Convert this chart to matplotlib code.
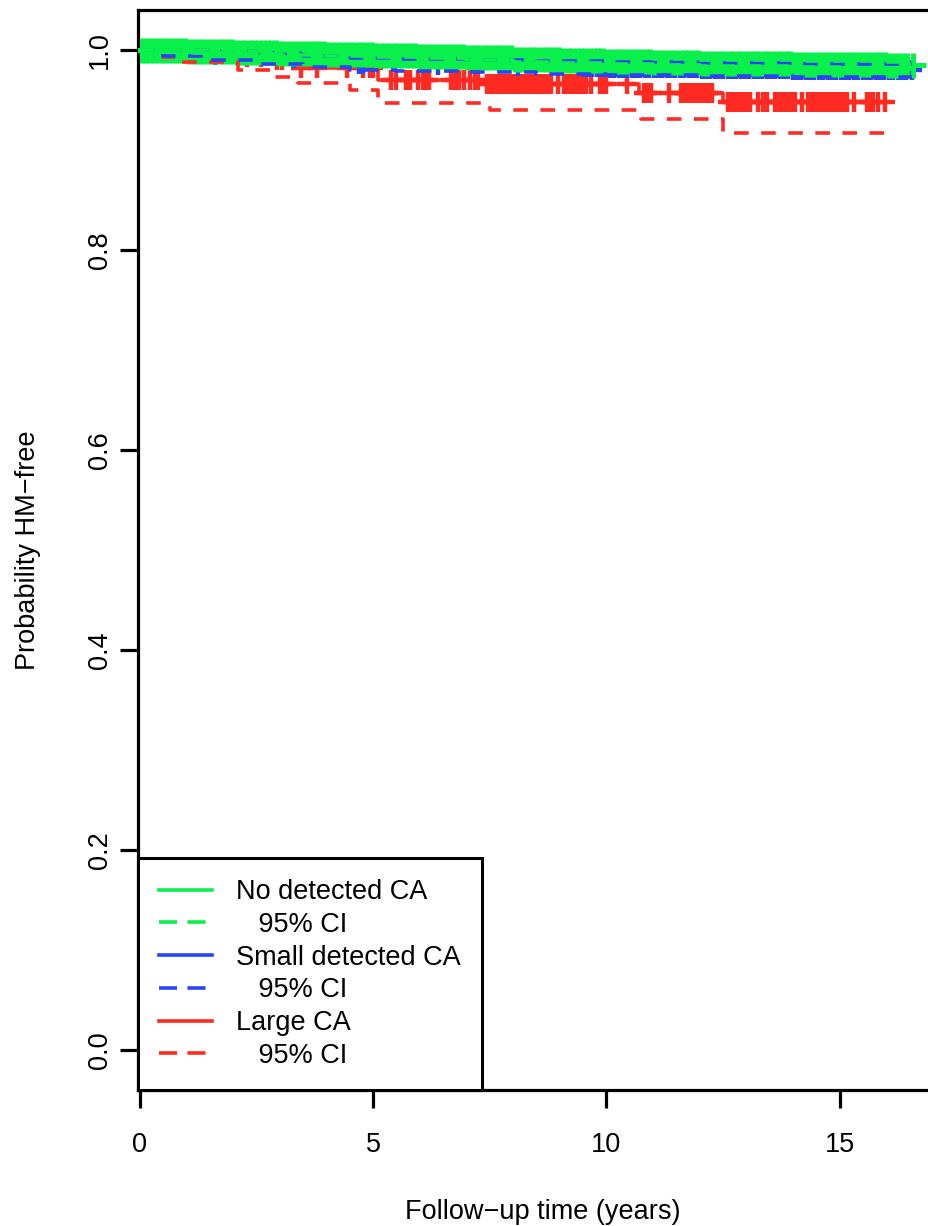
import numpy as np
import matplotlib
matplotlib.use("Agg")
import matplotlib.pyplot as plt
from matplotlib.lines import Line2D

plt.rcParams['font.family'] = ['Liberation Sans', 'DejaVu Sans']
plt.rcParams['lines.scale_dashes'] = False

# ---------------- data ----------------
# No detected CA (green)
green_t = [0, 1, 2, 3, 4, 5, 6, 7, 8, 9, 10, 11, 12, 13, 14, 15, 16]
green_s = [1.0, 0.999, 0.998, 0.997, 0.996, 0.995, 0.994, 0.993, 0.991, 0.990,
           0.989, 0.988, 0.987, 0.987, 0.986, 0.986, 0.985]
green_lo = [1.0, 0.997, 0.996, 0.995, 0.994, 0.993, 0.992, 0.990, 0.988, 0.987,
            0.986, 0.985, 0.984, 0.984, 0.983, 0.982, 0.981]
green_hi = [1.0, 1.0, 0.999, 0.999, 0.998, 0.997, 0.996, 0.995, 0.994, 0.993,
            0.992, 0.991, 0.990, 0.990, 0.989, 0.989, 0.988]
green_end = 16.58
green_cens = [0.04, 0.13, 0.22, 0.31, 0.40, 0.50, 0.59, 0.68, 0.78, 0.87, 0.96,
              1.05, 1.15, 1.24, 1.33, 1.43, 1.52, 1.61, 1.71, 1.80, 1.89, 1.98,
              2.08, 2.17, 2.26, 2.36, 2.45, 2.54, 2.64, 2.73, 2.82, 2.92,
              3.01, 3.10, 3.20, 3.29, 3.38, 3.48, 3.57, 3.66, 3.76, 3.85, 3.94,
              4.04, 4.13, 4.22, 4.32, 4.41, 4.50, 4.60, 4.69, 4.78, 4.88, 4.97,
              5.06, 5.16, 5.25, 5.34, 5.44, 5.53, 5.62, 5.72, 5.81, 5.90,
              6.00, 6.09, 6.18, 6.28, 6.37, 6.46, 6.56, 6.65, 6.74, 6.84, 6.93,
              7.02, 7.12, 7.21, 7.30, 7.40, 7.49, 7.58, 7.68, 7.77, 7.86, 7.96,
              8.05, 8.14, 8.24, 8.33, 8.42, 8.52, 8.61, 8.70, 8.80, 8.89, 8.98,
              9.08, 9.17, 9.26, 9.36, 9.45, 9.54, 9.64, 9.73, 9.82, 9.92,
              10.01, 10.10, 10.20, 10.29, 10.38, 10.48, 10.57, 10.66, 10.76, 10.85, 10.94,
              11.04, 11.13, 11.22, 11.32, 11.41, 11.50, 11.60, 11.69, 11.78, 11.88, 11.97,
              12.06, 12.16, 12.25, 12.34, 12.44, 12.53, 12.62, 12.72, 12.81, 12.90,
              13.00, 13.09, 13.18, 13.28, 13.37, 13.46, 13.56, 13.65, 13.74, 13.84, 13.93,
              14.02, 14.12, 14.21, 14.30, 14.40, 14.49, 14.58, 14.68, 14.77, 14.86, 14.96,
              15.05, 15.14, 15.24, 15.33, 15.42, 15.52, 15.61, 15.70, 15.80, 15.89, 15.98,
              16.08, 16.17, 16.26, 16.35, 16.44, 16.58]

# Small detected CA (blue)
blue_t = [0, 0.5, 1.5, 2.5, 3.5, 4.5, 5.5, 7.0, 8.5, 10.0, 12.0, 14.0]
blue_s = [1.0, 0.998, 0.995, 0.992, 0.989, 0.986, 0.985, 0.984, 0.983, 0.982, 0.981, 0.980]
blue_lo = [1.0, 0.994, 0.990, 0.986, 0.983, 0.980, 0.979, 0.978, 0.976, 0.975, 0.974, 0.973]
blue_hi = [1.0, 1.0, 0.999, 0.997, 0.994, 0.992, 0.991, 0.990, 0.989, 0.988, 0.987, 0.986]
blue_end = 16.55
blue_cens = [0.28, 0.64, 1.24, 1.62, 3.30, 4.70, 4.78, 6.40, 8.10,
             9.52, 9.61, 9.70, 9.80, 9.89, 9.98, 10.08, 10.17, 10.26, 10.36, 10.45,
             10.54, 10.64, 10.73, 10.82, 10.92, 11.01, 11.10, 11.20, 11.29, 11.38,
             11.48, 11.57, 11.66, 11.76, 11.85, 11.94, 12.04, 12.13, 12.22, 12.32,
             12.41, 12.50, 12.60, 12.69, 12.78, 12.88, 12.97, 13.06, 13.16, 13.25,
             13.34, 13.44, 13.53, 13.62, 13.72, 13.81, 13.90, 14.00, 14.09, 14.18,
             14.28, 14.37, 14.46, 14.56, 14.65, 14.74, 14.84, 14.93, 15.02, 15.12,
             15.21, 15.30, 15.40, 15.49, 15.58, 15.68, 15.77, 15.86, 15.96, 16.05,
             16.14, 16.24, 16.33, 16.42, 16.55]

# Large CA (red)
red_t = [0, 0.6, 2.1, 2.9, 3.4, 5.1, 7.3, 10.7, 12.5]
red_s = [1.0, 0.997, 0.993, 0.990, 0.982, 0.970, 0.966, 0.957, 0.948]
red_lo_t = [0, 0.5, 0.9, 2.1, 2.9, 3.4, 4.5, 5.1, 7.5, 10.75, 12.5]
red_lo = [1.0, 0.993, 0.988, 0.980, 0.973, 0.967, 0.960, 0.947, 0.940, 0.931, 0.917]
red_hi_t = [0, 3.4, 5.1, 10.7, 12.5]
red_hi = [1.0, 0.998, 0.992, 0.988, 0.985]
red_end = 16.0
red_cens = [0.65, 1.20, 1.75, 2.30, 2.60, 2.95, 3.05, 3.45, 3.80, 4.45, 4.78, 4.93, 5.00,
            5.38, 5.49, 5.70, 5.79, 5.96, 6.07, 6.13, 6.20, 6.66, 6.75, 6.85, 6.95,
            7.07, 7.18, 7.25, 7.45, 7.52, 7.60, 7.66, 7.72, 7.80, 7.86, 7.93, 8.00,
            8.07, 8.13, 8.20, 8.27, 8.33, 8.40, 8.47, 8.55, 8.60, 8.67, 8.75, 8.82,
            8.96, 9.10, 9.17, 9.24, 9.30, 9.37, 9.44, 9.50, 9.57, 9.68, 9.86, 9.93,
            10.00, 10.45, 10.80, 10.88, 10.95, 11.35, 11.60, 11.67, 11.74, 11.80,
            11.87, 11.94, 12.00, 12.07, 12.13, 12.20, 12.27, 12.60, 12.67, 12.74,
            12.80, 12.87, 12.94, 13.00, 13.07, 13.25, 13.35, 13.45, 13.62, 13.70,
            13.77, 13.85, 13.92, 14.00, 14.05, 14.20, 14.33, 14.40, 14.47, 14.55,
            14.62, 14.70, 14.77, 14.85, 14.93, 15.00, 15.07, 15.15, 15.30, 15.58,
            15.65, 15.72, 15.82, 15.97]

legend_labels = ['No detected CA', '   95% CI', 'Small detected CA', '   95% CI',
                 'Large CA', '   95% CI']
x_ticks = [0, 5, 10, 15]
y_ticks = [0.0, 0.2, 0.4, 0.6, 0.8, 1.0]
y_tick_labels = ['0.0', '0.2', '0.4', '0.6', '0.8', '1.0']
x_label = 'Follow\u2212up time (years)'
y_label = 'Probability HM\u2212free'

# ---------------- style ----------------
GREEN = '#0AF04A'
BLUE = '#2A44F2'
RED = '#FF2A22'
LW = 2.6
DASH = (0, (10.5, 9.0))
LEG_DASH = (0, (13, 7.5))
FS = 19.5

W, H = 929, 1226
fig = plt.figure(figsize=(W / 100, H / 100), dpi=100)
ax = fig.add_axes([138 / W, 1 - 1090 / H, (947 - 138) / W, 1080 / H])
ax.set_xlim(-0.04, 17.3)
ax.set_ylim(-0.04, 1.04)


def step_at(tk, sk, tq):
    idx = np.searchsorted(np.asarray(tk), np.asarray(tq), side='right') - 1
    return np.asarray(sk)[idx]


def draw_step(tk, sk, tend, color, z, ls='-'):
    tt = list(tk) + [tend]
    ss = list(sk) + [sk[-1]]
    ax.step(tt, ss, where='post', color=color, lw=LW, ls=ls, zorder=z,
            solid_capstyle='butt', dash_capstyle='butt')


def draw_marks(tk, sk, cens, color, z, ms, mew):
    ax.plot(cens, step_at(tk, sk, cens), ls='none', marker='+', ms=ms,
            mew=mew, color=color, zorder=z)


# survival curves with censoring marks (red, blue, green order)
draw_step(red_t, red_s, red_end, RED, 1)
draw_marks(red_t, red_s, red_cens, RED, 1.1, 15, 3.2)
draw_step(blue_t, blue_s, blue_end, BLUE, 2)
draw_marks(blue_t, blue_s, blue_cens, BLUE, 2.1, 14, 3.2)
draw_step(green_t, green_s, green_end, GREEN, 3)
draw_marks(green_t, green_s, green_cens, GREEN, 3.1, 18, 3.6)

# confidence intervals
draw_step(red_lo_t, red_lo, red_end, RED, 4, DASH)
draw_step(red_hi_t, red_hi, red_end, RED, 2.5, DASH)
draw_step(blue_t, blue_lo, blue_end, BLUE, 5, DASH)
draw_step(blue_t, blue_hi, blue_end, BLUE, 5, DASH)
draw_step(green_t, green_lo, green_end, GREEN, 6, DASH)
draw_step(green_t, green_hi, green_end, GREEN, 6, DASH)

# axes styling
for side in ['left', 'bottom', 'top', 'right']:
    ax.spines[side].set_linewidth(2.3)
    ax.spines[side].set_color('black')
ax.set_xticks(x_ticks)
ax.set_xticklabels([str(v) for v in x_ticks])
ax.set_yticks(y_ticks)
ax.set_yticklabels(y_tick_labels, rotation=90, va='center')
ax.tick_params(axis='both', length=13, width=2.3, labelsize=FS, color='black')
ax.tick_params(axis='x', pad=17)
ax.tick_params(axis='y', pad=5)
ax.set_xlabel(x_label, fontsize=FS, labelpad=30)
ax.set_ylabel(y_label, fontsize=FS, labelpad=33)

handles = [
    Line2D([], [], color=GREEN, lw=LW),
    Line2D([], [], color=GREEN, lw=LW, ls=LEG_DASH),
    Line2D([], [], color=BLUE, lw=LW),
    Line2D([], [], color=BLUE, lw=LW, ls=LEG_DASH),
    Line2D([], [], color=RED, lw=LW),
    Line2D([], [], color=RED, lw=LW, ls=LEG_DASH),
]
leg = ax.legend(handles, legend_labels, loc='lower left', bbox_to_anchor=(0, 0),
                borderaxespad=0, fancybox=False, framealpha=1, fontsize=FS,
                handlelength=1.96, handletextpad=0.88, labelspacing=0.25,
                borderpad=0.78)
leg.get_frame().set_edgecolor('black')
leg.get_frame().set_linewidth(2.2)
leg.set_zorder(10)

fig.savefig('out.png', dpi=100)
